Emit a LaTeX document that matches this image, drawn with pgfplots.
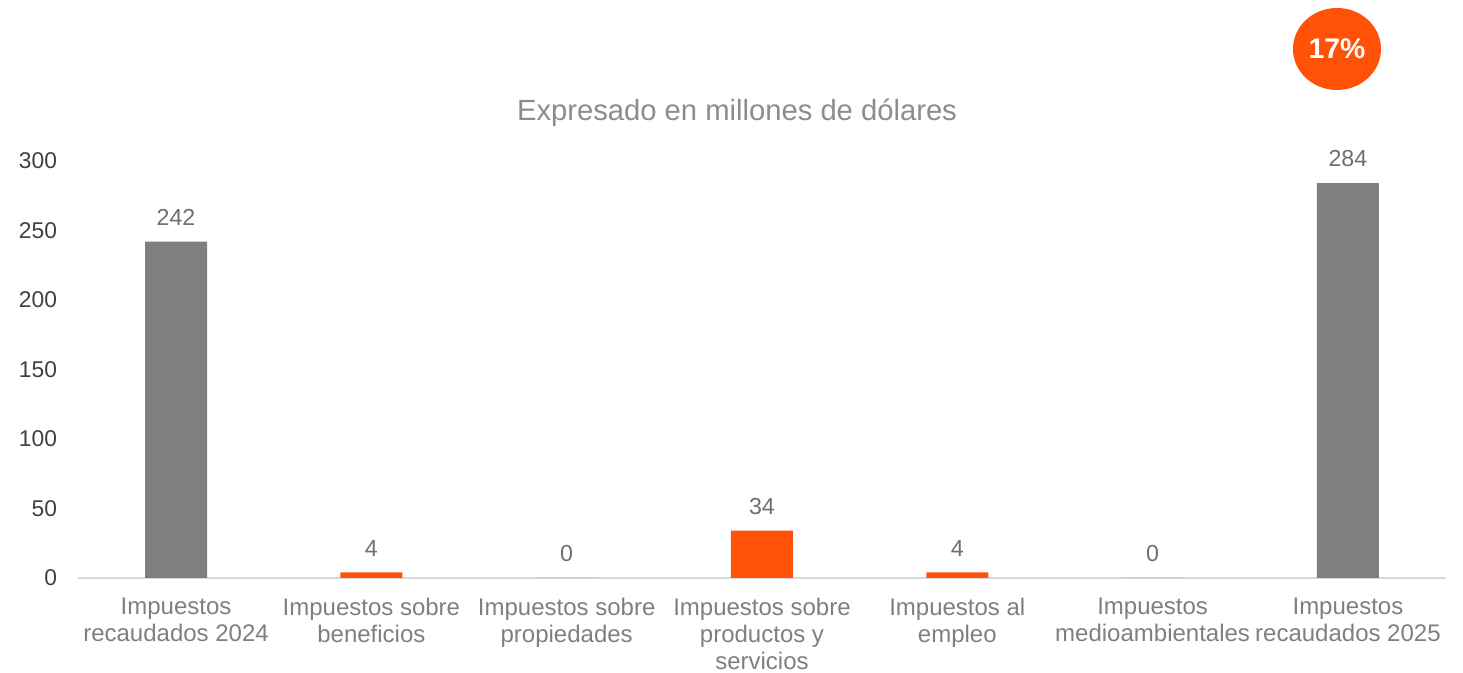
\documentclass[border=0pt]{standalone}
\usepackage{pgfplots}
\pgfplotsset{compat=1.18}
\usepackage{fontspec}
\setmainfont{Liberation Sans}
\definecolor{barorange}{HTML}{FF5208}
\definecolor{bargray}{HTML}{7F7F7F}
\definecolor{axisgray}{HTML}{D9D9D9}
\definecolor{ticklab}{HTML}{404040}
\definecolor{xlab}{HTML}{7F7F7F}
\definecolor{vallab}{HTML}{6F6F6F}
\definecolor{titlegray}{HTML}{8C8C8C}
\begin{document}
\begin{tikzpicture}
\useasboundingbox (0,0) rectangle (731.5pt,336.5pt);
\begin{axis}[
  at={(39.2pt,47.5pt)}, anchor=south west,
  scale only axis, width=683.6pt, height=208.5pt,
  xmin=-0.5, xmax=6.5, ymin=0, ymax=300,
  ytick={0,50,...,300},
  xtick={0,...,6},
  xticklabels={{Impuestos\\recaudados 2024},{Impuestos sobre\\beneficios},{Impuestos sobre\\propiedades},{Impuestos sobre\\productos y\\servicios},{Impuestos al\\empleo},{Impuestos\\medioambientales},{Impuestos\\recaudados 2025}},
  axis x line*=bottom, axis y line*=left,
  x axis line style={draw=axisgray, line width=0.75pt},
  y axis line style={draw=none},
  major tick length=0pt,
  tick style={draw=none},
  /pgf/number format/assume math mode=true,
  yticklabel style={font=\fontsize{11.4}{13}\selectfont, text=ticklab, inner sep=0pt, xshift=-10.5pt},
  xticklabel style={font=\fontsize{12}{13.5}\selectfont, text=xlab, align=center, inner sep=0pt, yshift=-10pt},
  ybar, bar width=31pt, bar shift=0pt,
  nodes near coords,
  every node near coord/.append style={font=\fontsize{11.6}{13}\selectfont, text=vallab, inner sep=0pt, anchor=south, yshift=8pt},
  clip=false,
]
\addplot[fill=bargray, draw=none] coordinates {(0,242) (6,284)};
\addplot[fill=barorange, draw=none] coordinates {(1,4) (2,0) (3,34) (4,4) (5,0)};
\end{axis}
\node[text=titlegray, font=\fontsize{14.6}{17}\selectfont] at (368.5pt,280pt) {Expresado en millones de dólares};
\fill[barorange] (668.5pt,312pt) ellipse [x radius=22pt, y radius=20.5pt];
\node[text=white, font=\fontsize{14.2}{16}\selectfont\bfseries] at (668.5pt,312pt) {17\%};
\end{tikzpicture}
\end{document}
